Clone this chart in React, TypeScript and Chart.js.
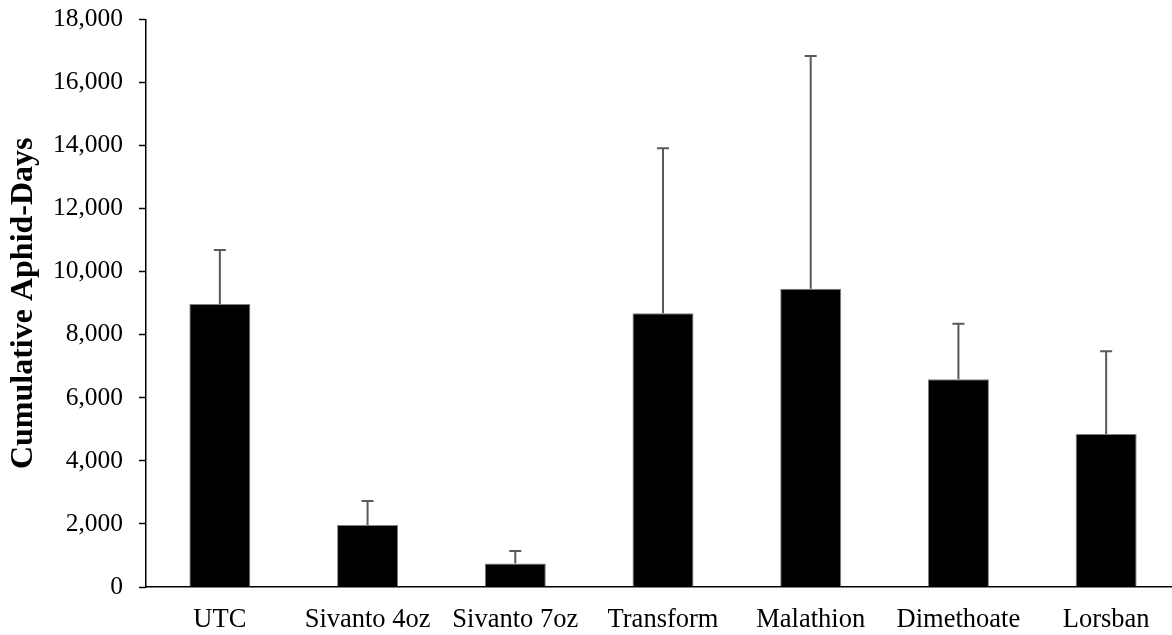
import React, { useEffect, useRef } from "react";
import { Chart, registerables } from "chart.js";

Chart.register(...registerables);

const categories = ["UTC", "Sivanto 4oz", "Sivanto 7oz", "Transform", "Malathion", "Dimethoate", "Lorsban"];
const means = [8976, 1966, 742, 8681, 9461, 6587, 4853];
const errorTops = [10688, 2727, 1142, 13913, 16841, 8351, 7475];
const yTicks = [0, 2000, 4000, 6000, 8000, 10000, 12000, 14000, 16000, 18000];

const errorBarPlugin = {
  id: "errorBars",
  afterDatasetsDraw(chart: any) {
    const meta = chart.getDatasetMeta(0);
    const yScale = chart.scales.y;
    const ctx = chart.ctx;
    ctx.save();
    ctx.strokeStyle = "#5a5a5a";
    ctx.lineWidth = 2;
    meta.data.forEach((bar: any, i: number) => {
      const x = bar.x;
      const yTop = yScale.getPixelForValue(errorTops[i]);
      const yBase = yScale.getPixelForValue(means[i]);
      ctx.beginPath();
      ctx.moveTo(x, yBase);
      ctx.lineTo(x, yTop);
      ctx.moveTo(x - 6, yTop);
      ctx.lineTo(x + 6, yTop);
      ctx.stroke();
    });
    ctx.restore();
  },
};

export default function App() {
  const ref = useRef<HTMLCanvasElement | null>(null);
  useEffect(() => {
    if (!ref.current) return;
    const chart = new Chart(ref.current, {
      type: "bar",
      data: {
        labels: categories,
        datasets: [
          {
            data: means,
            backgroundColor: "#000000",
            borderColor: "#7f7f7f",
            borderWidth: 1,
            barPercentage: 0.413,
            categoryPercentage: 1,
          },
        ],
      },
      options: {
        responsive: false,
        animation: false,
        layout: { padding: { top: 19.5, left: 0, right: 0, bottom: 0 } },
        plugins: { legend: { display: false }, tooltip: { enabled: false } },
        scales: {
          x: {
            grid: { display: false, drawTicks: false },
            border: { display: true, color: "#000", width: 1.5 },
            ticks: {
              color: "#000",
              padding: 17,
              maxRotation: 0,
              autoSkip: false,
              font: { family: "'Liberation Serif', 'Times New Roman', serif", size: 26.5 },
            },
            afterFit: (scale: any) => {
              scale.height = 48;
              scale.paddingLeft = 0;
              scale.paddingRight = 0;
            },
          },
          y: {
            min: 0,
            max: 18000,
            afterBuildTicks: (scale: any) => {
              scale.ticks = yTicks.map((v) => ({ value: v }));
            },
            grid: {
              display: true,
              drawOnChartArea: false,
              drawTicks: true,
              tickLength: 7,
              tickWidth: 1.5,
              tickColor: "#000",
            },
            border: { display: true, color: "#000", width: 1.5 },
            ticks: {
              color: "#000",
              padding: 16,
              font: { family: "'Liberation Serif', 'Times New Roman', serif", size: 25.5 },
              callback: (v: any) => Number(v).toLocaleString("en-US"),
            },
            title: {
              display: true,
              text: "Cumulative Aphid-Days",
              color: "#000",
              padding: { top: 5, bottom: 0 },
              font: { family: "'Liberation Serif', 'Times New Roman', serif", size: 32, weight: "bold" },
            },
            afterFit: (scale: any) => {
              scale.width = 146;
              scale.paddingTop = 0;
              scale.paddingBottom = 0;
            },
          },
        },
      },
      plugins: [errorBarPlugin],
    });
    return () => chart.destroy();
  }, []);
  return (
    <div style={{ position: "absolute", left: 0, top: 0, width: 1172, height: 635, overflow: "hidden", background: "#fff" }}>
      <canvas ref={ref} width={1180} height={635} style={{ display: "block", width: 1180, height: 635 }} />
    </div>
  );
}
